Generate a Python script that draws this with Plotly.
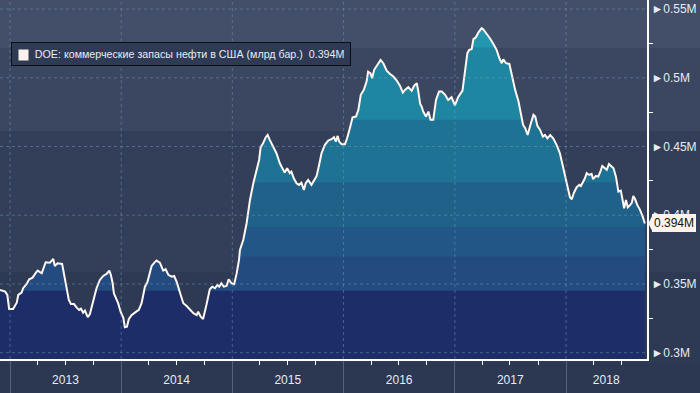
import numpy as np
import plotly.graph_objects as go

# ---------------- data ----------------
dates = ["2012-11-29","2012-12-16","2012-12-23","2012-12-29","2013-01-11","2013-01-23","2013-01-28","2013-02-08","2013-02-13","2013-02-24",
"2013-03-05","2013-03-16","2013-03-27","2013-04-02","2013-04-15","2013-04-28","2013-05-12","2013-05-23","2013-05-28","2013-06-06",
"2013-06-21","2013-06-28","2013-07-06","2013-07-13","2013-07-20","2013-07-30","2013-08-08","2013-08-16","2013-08-22","2013-08-29",
"2013-09-04","2013-09-07","2013-09-13","2013-09-20","2013-10-01","2013-10-12","2013-10-23","2013-11-03","2013-11-14","2013-11-23",
"2013-11-28","2013-12-04","2013-12-08","2013-12-22","2013-12-30","2014-01-08","2014-01-13","2014-01-20","2014-01-26","2014-02-04",
"2014-02-15","2014-02-28","2014-03-09","2014-03-20","2014-03-28","2014-04-03","2014-04-11","2014-04-20","2014-04-27","2014-05-08",
"2014-05-19","2014-05-27","2014-06-05","2014-06-16","2014-06-24","2014-07-02","2014-07-13","2014-07-24","2014-08-04","2014-08-15",
"2014-08-26","2014-09-06","2014-09-11","2014-09-19","2014-09-27","2014-10-08","2014-10-19","2014-10-27","2014-11-05","2014-11-13",
"2014-11-19","2014-11-26","2014-12-04","2014-12-13","2014-12-20","2014-12-29","2015-01-07","2015-01-15","2015-01-23","2015-01-26",
"2015-02-06","2015-02-17","2015-02-28","2015-03-11","2015-03-22","2015-03-30","2015-04-04","2015-04-12","2015-04-21","2015-04-27",
"2015-05-04","2015-05-15","2015-05-26","2015-06-06","2015-06-17","2015-06-22","2015-06-30","2015-07-09","2015-07-14","2015-07-22",
"2015-07-31","2015-08-08","2015-08-16","2015-08-24","2015-08-30","2015-09-07","2015-09-18","2015-10-05","2015-10-13","2015-10-21",
"2015-11-01","2015-11-12","2015-11-23","2015-12-01","2015-12-07","2015-12-13","2015-12-18","2015-12-26","2016-01-06","2016-01-13",
"2016-01-22","2016-01-31","2016-02-11","2016-02-19","2016-02-27","2016-03-08","2016-03-17","2016-03-22","2016-03-30","2016-04-04",
"2016-04-11","2016-04-21","2016-05-02","2016-05-11","2016-05-22","2016-06-02","2016-06-13","2016-06-24","2016-07-05","2016-07-14",
"2016-07-21","2016-08-01","2016-08-12","2016-08-20","2016-08-29","2016-09-03","2016-09-09","2016-09-14","2016-09-19","2016-09-28",
"2016-10-06","2016-10-13","2016-10-22","2016-10-31","2016-11-10","2016-11-19","2016-11-30","2016-12-10","2016-12-21","2017-01-01",
"2017-01-12","2017-01-26","2017-02-03","2017-02-11","2017-02-17","2017-02-25","2017-03-03","2017-03-11","2017-03-19","2017-03-30",
"2017-04-04","2017-04-15","2017-04-26","2017-05-07","2017-05-18","2017-05-27","2017-06-04","2017-06-09","2017-06-18","2017-06-29",
"2017-07-07","2017-07-18","2017-07-29","2017-08-06","2017-08-13","2017-08-20","2017-08-28","2017-09-06","2017-09-16","2017-09-22",
"2017-09-29","2017-10-08","2017-10-17","2017-10-24","2017-11-01","2017-11-10","2017-11-20","2017-12-01","2017-12-12","2017-12-17",
"2017-12-29","2018-01-08","2018-01-14","2018-01-20","2018-01-27","2018-02-05","2018-02-14","2018-02-19","2018-02-25","2018-03-04",
"2018-03-10","2018-03-18","2018-03-26","2018-03-31","2018-04-09","2018-04-17","2018-04-25","2018-04-30","2018-05-09","2018-05-15",
"2018-05-22","2018-05-29","2018-06-06","2018-06-14","2018-06-22","2018-06-30","2018-07-06","2018-07-11","2018-07-17","2018-07-23",
"2018-07-31","2018-08-05","2018-08-10","2018-08-16","2018-08-23","2018-09-01","2018-09-10","2018-09-17"]

stocks = [0.3456,0.3444,0.3420,0.3318,0.3318,0.3364,0.3420,0.3437,0.3469,0.3498,
0.3534,0.3546,0.3582,0.3597,0.3578,0.3658,0.3655,0.3682,0.3631,0.3651,
0.3646,0.3553,0.3456,0.3384,0.3354,0.3354,0.3328,0.3311,0.3320,0.3291,
0.3306,0.3287,0.3258,0.3279,0.3371,0.3469,0.3529,0.3558,0.3573,0.3597,
0.3566,0.3505,0.3432,0.3360,0.3298,0.3253,0.3185,0.3189,0.3243,0.3272,
0.3291,0.3311,0.3360,0.3480,0.3512,0.3558,0.3631,0.3655,0.3670,0.3655,
0.3597,0.3607,0.3566,0.3553,0.3558,0.3517,0.3444,0.3360,0.3340,0.3311,
0.3287,0.3274,0.3298,0.3262,0.3245,0.3347,0.3461,0.3480,0.3469,0.3493,
0.3480,0.3505,0.3480,0.3485,0.3534,0.3505,0.3498,0.3573,0.3675,0.3747,
0.3820,0.3942,0.4111,0.4233,0.4330,0.4402,0.4495,0.4524,0.4568,0.4584,
0.4548,0.4499,0.4451,0.4378,0.4330,0.4310,0.4342,0.4306,0.4317,0.4269,
0.4233,0.4221,0.4237,0.4184,0.4233,0.4257,0.4221,0.4286,0.4366,0.4451,
0.4512,0.4543,0.4553,0.4568,0.4536,0.4577,0.4536,0.4517,0.4517,0.4560,
0.4633,0.4713,0.4718,0.4766,0.4876,0.4912,0.4972,0.5045,0.5033,0.4997,
0.5058,0.5089,0.5130,0.5106,0.5052,0.5028,0.5009,0.4980,0.4941,0.4892,
0.4912,0.4932,0.4905,0.4941,0.4961,0.4900,0.4810,0.4790,0.4754,0.4718,
0.4754,0.4694,0.4694,0.4839,0.4900,0.4900,0.4876,0.4839,0.4859,0.4800,
0.4861,0.4907,0.5033,0.5179,0.5203,0.5208,0.5281,0.5295,0.5329,0.5361,
0.5354,0.5325,0.5288,0.5247,0.5203,0.5143,0.5106,0.5135,0.5106,0.5101,
0.5021,0.4912,0.4827,0.4742,0.4657,0.4633,0.4584,0.4657,0.4730,0.4718,
0.4650,0.4621,0.4572,0.4584,0.4560,0.4584,0.4560,0.4512,0.4451,0.4402,
0.4293,0.4184,0.4131,0.4116,0.4164,0.4204,0.4221,0.4213,0.4237,0.4269,
0.4306,0.4293,0.4301,0.4262,0.4286,0.4281,0.4325,0.4359,0.4342,0.4330,
0.4373,0.4359,0.4342,0.4281,0.4172,0.4179,0.4111,0.4051,0.4111,0.4058,
0.4075,0.4090,0.4140,0.4116,0.4075,0.4039,0.3990,0.3940]

series_name = "DOE: коммерческие запасы нефти в США (млрд бар.)"
y_ticks = [0.30, 0.35, 0.40, 0.45, 0.50, 0.55]
y_tick_labels = ["0.3M", "0.35M", "0.4M", "0.45M", "0.5M", "0.55M"]
year_starts = ["2013-01-01", "2014-01-01", "2015-01-01", "2016-01-01", "2017-01-01", "2018-01-01"]
year_labels = ["2013", "2014", "2015", "2016", "2017", "2018"]
year_label_pos = ["2013-07-02", "2014-07-02", "2015-07-02", "2016-07-02", "2017-07-02", "2018-05-13"]

# ---------------- style ----------------
X_RANGE = ["2012-11-29", "2018-09-24"]
Y_RANGE = [0.2954, 0.5566]
FONT = "Liberation Sans, Arial, DejaVu Sans, sans-serif"
TXT = "#e6ebf5"
GRID = "rgba(120,160,195,0.45)"

# area colour bands (value edges, colours bottom -> top)
band_edges = [0.345, 0.370, 0.3915, 0.424, 0.4694, 0.522]
band_colors = ["#1c2d68", "#234b80", "#225687", "#1f6189", "#1e7293", "#1f86a2", "#2397ae"]

# background bands (paper fractions) and colours
bg_bands = [(0.8663, 1.05, "#434f68"), (0.6351, 0.8663, "#3b4760"),
            (0.2423, 0.6351, "#333f58"), (-0.01, 0.2423, "#2e3a53")]

fig = go.Figure()
v = np.array(stocks)

# top band: full area
fig.add_trace(go.Scatter(x=dates, y=v, mode="lines", line=dict(width=0),
                         fill="tozeroy", fillcolor=band_colors[-1],
                         showlegend=False, hoverinfo="skip"))
for edge, col in zip(band_edges[::-1], band_colors[-2::-1]):
    fig.add_trace(go.Scatter(x=dates, y=np.minimum(v, edge), mode="lines", line=dict(width=0),
                             fill="tozeroy", fillcolor=col,
                             showlegend=False, hoverinfo="skip"))
# the white line
fig.add_trace(go.Scatter(x=dates, y=v, mode="lines", line=dict(color="#fff7f0", width=2),
                         name=series_name, showlegend=False))
# dummy trace for label axis
fig.add_trace(go.Scatter(x=year_label_pos, y=[None] * len(year_label_pos), xaxis="x2",
                         showlegend=False, hoverinfo="skip"))

shapes = []
for y0, y1, col in bg_bands:
    shapes.append(dict(type="rect", xref="paper", yref="paper", x0=-0.01, x1=1.1, y0=y0, y1=y1,
                       fillcolor=col, line=dict(width=0), layer="below"))
for t in y_ticks:
    shapes.append(dict(type="line", xref="paper", yref="y", x0=0, x1=1, y0=t, y1=t,
                       line=dict(color=GRID, width=1, dash="dot"), layer="above"))
for d in year_starts:
    shapes.append(dict(type="line", xref="x", yref="paper", x0=d, x1=d, y0=0, y1=1,
                       line=dict(color=GRID, width=1, dash="dot"), layer="above"))
# pointer of the last-value tag
yf = (stocks[-1] - Y_RANGE[0]) / (Y_RANGE[1] - Y_RANGE[0])
shapes.append(dict(type="path", xref="paper", yref="paper",
                   path=f"M 1.002 {yf} L 1.009 {yf + 0.024} L 1.009 {yf - 0.024} Z",
                   fillcolor="#fdf3ea", line=dict(width=0), layer="above"))

annotations = [
    dict(xref="paper", yref="paper", x=11 / 647, y=1 - 42 / 359, xanchor="left", yanchor="top",
         text="\u00a0" * 6 + series_name + "\u00a0\u00a0" + f"{stocks[-1]:.3f}M",
         showarrow=False, bgcolor="#2f3a55", bordercolor="#0b0f16", borderwidth=1, borderpad=5,
         font=dict(family=FONT, size=10.7, color=TXT), align="left"),
    dict(xref="paper", yref="paper", x=18 / 647, y=1 - 49 / 359, xanchor="left", yanchor="top",
         text=" ", width=9, height=10, showarrow=False, bgcolor="#fdf1ec", borderpad=0,
         font=dict(size=6)),
    dict(xref="paper", yref="y", x=1, y=stocks[-1], xanchor="left", yanchor="middle", xshift=5,
         text=f"{stocks[-1]:.3f}M", showarrow=False, bgcolor="#fdf3ea",
         bordercolor="#fdf3ea", borderwidth=0, borderpad=2,
         font=dict(family=FONT, size=12, color="#111111")),
]

fig.update_layout(
    template="none",
    width=700, height=393, autosize=False,
    margin=dict(l=0, r=53, t=0, b=34, pad=0),
    paper_bgcolor="#2c3852", plot_bgcolor="#2e3a53",
    font=dict(family=FONT, size=12, color=TXT),
    shapes=shapes, annotations=annotations,
    xaxis=dict(type="date", range=X_RANGE, tickmode="array", tickvals=year_starts,
               ticks="outside", ticklen=34, tickcolor="#56617c", tickwidth=1,
               showticklabels=False, showgrid=False, zeroline=False, automargin=False,
               showline=True, linecolor="#ffffff", linewidth=2,
               minor=dict(tickmode="linear", tick0="2013-01-01", dtick="M3", ticks="outside",
                          ticklen=4, tickcolor="#ffffff", showgrid=False)),
    xaxis2=dict(type="date", range=X_RANGE, overlaying="x", anchor="y", side="bottom",
                tickmode="array", tickvals=year_label_pos, ticktext=year_labels,
                ticks="", showgrid=False, zeroline=False, showline=False, automargin=False,
                ticklabelstandoff=12, tickfont=dict(family=FONT, size=12, color=TXT)),
    yaxis=dict(range=Y_RANGE, side="right", tickmode="array", tickvals=y_ticks,
               ticktext=["\u25ba" + s for s in y_tick_labels], ticks="", automargin=False,
               tickfont=dict(family=FONT, size=12, color=TXT),
               showgrid=False, zeroline=False, showline=True, linecolor="#ffffff", linewidth=2,
               minor=dict(tickmode="array",
                          tickvals=[(a + b) / 2 for a, b in zip(y_ticks[:-1], y_ticks[1:])],
                          ticks="outside", ticklen=4, tickcolor="#ffffff", showgrid=False)),
    showlegend=False,
)

fig.write_html("out.html", config={"displayModeBar": False, "staticPlot": True},
               post_script="document.body.style.margin='0px';document.body.style.overflow='hidden';")
